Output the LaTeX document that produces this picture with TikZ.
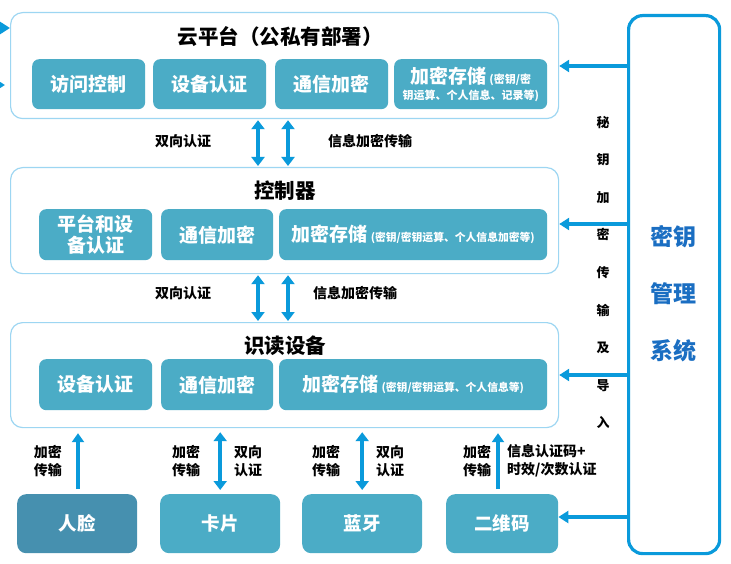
\documentclass[tikz,border=0pt]{standalone}
\usepackage{fontspec}
\setmainfont{Noto Sans CJK SC}
\usetikzlibrary{arrows.meta}
\definecolor{outerline}{HTML}{9DD6F2}
\definecolor{innerfill}{HTML}{4BACC6}
\definecolor{facefill}{HTML}{4690AF}
\definecolor{arrowblue}{HTML}{0A9ADB}
\definecolor{keytext}{HTML}{1A6EC2}
\begin{document}
\begin{tikzpicture}[x=1pt,y=-1pt,
  outerbox/.style={draw=outerline, line width=1.2pt, rounded corners=12pt, fill=white, anchor=north west, inner sep=0pt, minimum width=548pt, minimum height=106pt},
  innerbox/.style={fill=innerfill, rounded corners=7pt, anchor=north west, inner sep=0pt, text=white, font=\bfseries\fontsize{19}{21}\selectfont, align=center},
  botbox/.style={fill=innerfill, rounded corners=9pt, anchor=north west, inner sep=0pt, text=white, font=\bfseries\fontsize{18.5}{21}\selectfont, minimum width=120pt, minimum height=59pt},
  titletext/.style={font=\bfseries\fontsize{20.5}{24}\selectfont, inner sep=0pt},
  lbl/.style={font=\bfseries\fontsize{14}{18}\selectfont, inner sep=0pt, align=center},
  dbl/.style={draw=arrowblue, line width=4.5pt, {Triangle[width=13pt,length=9pt]}-{Triangle[width=13pt,length=9pt]}, shorten >=1pt, shorten <=1pt},
  upar/.style={draw=arrowblue, line width=4pt, -{Triangle[width=12pt,length=9pt]}, shorten >=5pt, shorten <=5pt},
  keyarrow/.style={draw=arrowblue, line width=3.5pt, -{Triangle[width=12pt,length=10pt]}}
]
\useasboundingbox (0,0) rectangle (731,564);
\clip (0,0) rectangle (731,564);

% cloud platform
\node[outerbox] (cloud) at (10,12) {};
\node[titletext] (cloudT) at (280,37) {云平台（公私有部署）};
\node[innerbox, minimum width=113pt, minimum height=50pt] (c1) at (32,59) {访问控制};
\node[innerbox, minimum width=113pt, minimum height=50pt] (c2) at (153,59) {设备认证};
\node[innerbox, minimum width=113pt, minimum height=50pt] (c3) at (275,59) {通信加密};
\node[innerbox, minimum width=153pt, minimum height=50pt] (c4) at (394,59) {加密存储\,{\fontsize{11}{12}\selectfont (密钥/密}\\[-5pt]{\fontsize{11}{12}\selectfont 钥运算、个人信息、记录等)}};

% controller
\node[outerbox] (ctrl) at (10,167) {};
\node[titletext] (ctrlT) at (285,191) {控制器};
\node[innerbox, minimum width=113pt, minimum height=51pt] (k1) at (39,209) {平台和设\\备认证};
\node[innerbox, minimum width=112pt, minimum height=51pt] (k2) at (161,209) {通信加密};
\node[innerbox, minimum width=268pt, minimum height=51pt] (k3) at (279,209) {加密存储\,{\fontsize{10.8}{12}\selectfont (密钥/密钥运算、个人信息加密等)}};

% reader
\node[outerbox, minimum height=105pt] (rdr) at (10,322) {};
\node[titletext] (rdrT) at (285,346) {识读设备};
\node[innerbox, minimum width=113pt, minimum height=51pt] (r1) at (39,359) {设备认证};
\node[innerbox, minimum width=112pt, minimum height=51pt] (r2) at (161,359) {通信加密};
\node[innerbox, minimum width=268pt, minimum height=51pt] (r3) at (279,359) {加密存储\,{\fontsize{10.8}{12}\selectfont (密钥/密钥运算、个人信息等)}};

% bottom devices
\node[botbox, fill=facefill] (face) at (17,494) {人脸};
\node[botbox] (card) at (160,494) {卡片};
\node[botbox] (bt) at (302,494) {蓝牙};
\node[botbox, minimum width=112pt] (qr) at (446,494) {二维码};

% key management
\node[draw=arrowblue, line width=3.2pt, rounded corners=14pt, minimum width=91pt, minimum height=538pt, anchor=north west, inner sep=0pt] (key) at (627,14) {};
\node[font=\bfseries\fontsize{23}{57}\selectfont, text=keytext, align=center, inner sep=0pt] (keyT) at (673,294) {密钥\\管理\\系统};
\node[font=\bfseries\fontsize{13}{37.6}\selectfont, align=center, inner sep=0pt] (vt) at (603,272.5) {秘\\钥\\加\\密\\传\\输\\及\\导\\入};

% arrows from key management
\coordinate (y1) at (0,66);
\coordinate (y2) at (0,224);
\coordinate (y3) at (0,375);
\coordinate (y4) at (0,517);
\draw[keyarrow] (key.west |- y1) -- (cloud.east |- y1);
\draw[keyarrow] (key.west |- y2) -- (ctrl.east |- y2);
\draw[keyarrow] (key.west |- y3) -- (rdr.east |- y3);
\draw[keyarrow] (key.west |- y4) -- (qr.east |- y4);

% partial arrows at left edge
\coordinate (offA) at (-30,28);
\coordinate (offB) at (-30,85);
\draw[keyarrow] (offA) -- (offA -| cloud.west);
\draw[keyarrow] (offB) -- ([xshift=-5pt]offB -| cloud.west);

% vertical arrows between layers
\coordinate (ax1) at (258,0);
\coordinate (ax2) at (288,0);
\draw[dbl] (ax1 |- cloud.south) -- (ax1 |- ctrl.north);
\draw[dbl] (ax2 |- cloud.south) -- (ax2 |- ctrl.north);
\draw[dbl] (ax1 |- ctrl.south) -- (ax1 |- rdr.north);
\draw[dbl] (ax2 |- ctrl.south) -- (ax2 |- rdr.north);

\node[lbl] (l1) at (183,141) {双向认证};
\node[lbl] (l2) at (370,141) {信息加密传输};
\node[lbl] (l3) at (183,293) {双向认证};
\node[lbl] (l4) at (355,293) {信息加密传输};

% bottom arrows
\coordinate (ax3) at (78,0);
\coordinate (ax4) at (498,0);
\draw[upar] (ax3 |- face.north) -- (ax3 |- rdr.south);
\draw[dbl, shorten >=4pt, shorten <=4pt] (card.north) -- (card.north |- rdr.south);
\draw[dbl, shorten >=4pt, shorten <=4pt] (bt.north) -- (bt.north |- rdr.south);
\draw[upar] (ax4 |- qr.north) -- (ax4 |- rdr.south);

\node[lbl] (b1) at (48,461) {加密\\传输};
\node[lbl] (b2) at (186,461) {加密\\传输};
\node[lbl] (b3) at (248,461) {双向\\认证};
\node[lbl] (b4) at (326,461) {加密\\传输};
\node[lbl] (b5) at (390,461) {双向\\认证};
\node[lbl] (b6) at (477,461) {加密\\传输};
\node[lbl, anchor=west, align=left] (b7) at (507,461) {信息认证码+\\时效/次数认证};
\end{tikzpicture}
\end{document}
